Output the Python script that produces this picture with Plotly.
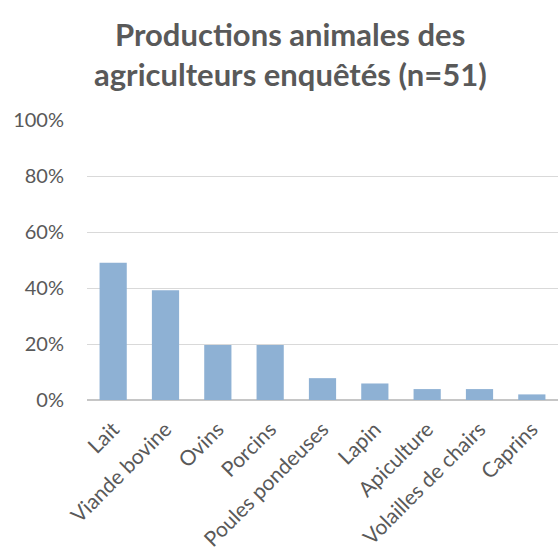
import plotly.graph_objects as go

categories = ["Lait", "Viande bovine", "Ovins", "Porcins", "Poules pondeuses",
              "Lapin", "Apiculture", "Volailles de chairs", "Caprins"]
values = [0.490, 0.392, 0.196, 0.196, 0.078, 0.059, 0.039, 0.039, 0.020]
y_ticks = [0, 0.2, 0.4, 0.6, 0.8, 1.0]
title_lines = ["Productions animales des", "agriculteurs enquêtés (n=51)"]

W, H = 559, 552
ml, mr, mt, mb = 87, 1, 120, 152
plot_w = W - ml - mr
plot_h = H - mt - mb

fig = go.Figure(go.Bar(
    x=categories, y=values,
    marker=dict(color="#8eb1d4", line=dict(width=0)),
    hoverinfo="x+y",
))

def py(px):
    return (H - mb - px) / plot_h

def px_x(px):
    return (px - ml) / plot_w

annotations = []
for line, yc in zip(title_lines, [34, 74]):
    annotations.append(dict(
        text=f"<b>{line}</b>", xref="paper", yref="paper",
        x=px_x(290), y=py(yc), xanchor="center", yanchor="middle",
        showarrow=False, font=dict(family="Lato", size=31, color="#595959"),
    ))

fig.update_layout(
    width=W, height=H,
    margin=dict(l=ml, r=mr, t=mt, b=mb, autoexpand=False),
    paper_bgcolor="white", plot_bgcolor="white",
    bargap=0.48,
    showlegend=False,
    annotations=annotations,
    font=dict(family="Lato", size=21, color="#595959"),
)
fig.update_xaxes(
    tickangle=-45, tickfont=dict(family="Lato", size=21, color="#595959"),
    showgrid=False, showline=False, ticks="", ticklabelstandoff=12,
)
fig.update_yaxes(
    range=[0, 1], tickvals=y_ticks, tickformat=".0%",
    showgrid=True, gridcolor="#d9d9d9", gridwidth=1,
    zeroline=True, zerolinecolor="#c6c6c6", zerolinewidth=2,
    ticks="", showline=False, ticklabelstandoff=22,
    tickfont=dict(family="Lato", size=20, color="#595959"),
)

fig.write_html("out.html")
